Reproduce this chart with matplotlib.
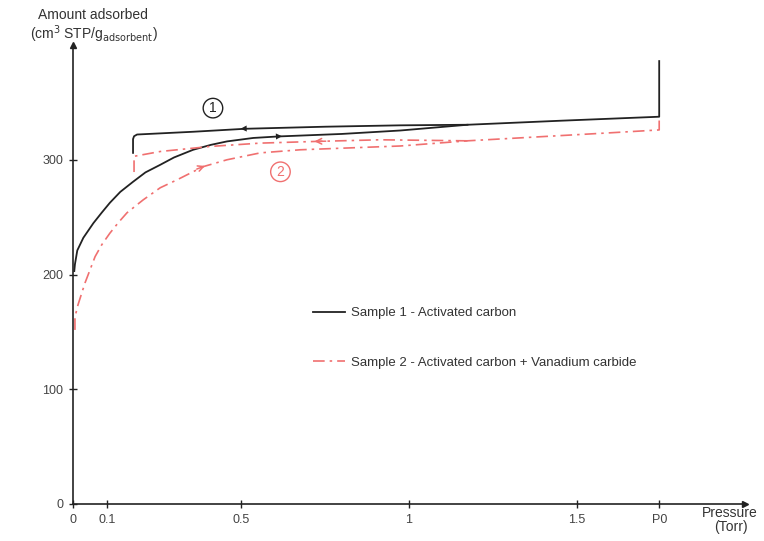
import matplotlib
matplotlib.use('Agg')
import matplotlib.pyplot as plt

plt.rcParams['font.family'] = ['Liberation Sans', 'DejaVu Sans']

P0 = 1.745  # saturation pressure position on the axis

# Sample 1 - activated carbon
s1_ads_p = [0.003, 0.005, 0.012, 0.03, 0.06, 0.085, 0.109, 0.14, 0.178, 0.215, 0.259,
            0.3, 0.357, 0.41, 0.458, 0.536, 0.61, 0.8, 0.974, 1.174, 1.45, P0, P0]
s1_ads_v = [203, 209, 221, 232, 244.8, 254, 262.5, 272, 280.8, 289, 295.6,
            302, 308.7, 313, 316, 319, 320.3, 322.5, 325.5, 330.5, 334, 337.5, 386]
s1_des_p = [1.174, 0.974, 0.75, 0.512, 0.357, 0.19, 0.181, 0.178, 0.178]
s1_des_v = [330.5, 330, 328.8, 327, 324.4, 322, 320.5, 318, 306]

# Sample 2 - activated carbon + vanadium carbide
s2_ads_p = [0.005, 0.005, 0.014, 0.035, 0.065, 0.085, 0.109, 0.135, 0.16, 0.208, 0.259,
            0.309, 0.387, 0.458, 0.557, 0.676, 0.974, 1.174, 1.6, P0, P0]
s2_ads_v = [151.7, 163, 173.5, 192.7, 215.6, 226, 236, 245.5, 253.8, 265, 275.6,
            282.5, 294, 300, 306, 308.7, 312, 316.5, 323.5, 326, 337]
s2_des_p = [1.174, 0.914, 0.726, 0.557, 0.408, 0.259, 0.181, 0.181]
s2_des_v = [316.5, 317.4, 316, 314.5, 311.6, 307.2, 303, 285]

xticks = [0, 0.1, 0.5, 1, 1.5, P0]
xlabels = ['0', '0.1', '0.5', '1', '1.5', 'P0']
yticks = [0, 100, 200, 300]

red = '#f07070'
dashdot = (0, (7, 3, 1.5, 3))

fig = plt.figure(figsize=(7.64, 5.41), dpi=100)
ax = fig.add_axes([0.0959, 0.0684, 0.879, 0.8484])
ax.set_xlim(0, 2.0)
ax.set_ylim(0, 400)

l1, = ax.plot(s1_ads_p, s1_ads_v, color='#222222', lw=1.3,
              label='Sample 1 - Activated carbon')
ax.plot(s1_des_p, s1_des_v, color='#222222', lw=1.3)
l2, = ax.plot(s2_ads_p, s2_ads_v, color=red, lw=1.2, linestyle=dashdot,
              label='Sample 2 - Activated carbon + Vanadium carbide')
ax.plot(s2_des_p, s2_des_v, color=red, lw=1.2, linestyle=dashdot)

# direction arrows on the curves
ax.annotate('', xy=(0.49, 327), xytext=(0.54, 327.4),
            arrowprops=dict(arrowstyle='-|>', color='#222222', lw=0, mutation_scale=11))
ax.annotate('', xy=(0.63, 320.6), xytext=(0.58, 320),
            arrowprops=dict(arrowstyle='-|>', color='#222222', lw=0, mutation_scale=11))
ax.annotate('', xy=(0.40, 295.5), xytext=(0.36, 291),
            arrowprops=dict(arrowstyle='->', color=red, lw=1.1, mutation_scale=10))
ax.annotate('', xy=(0.71, 316), xytext=(0.76, 316.2),
            arrowprops=dict(arrowstyle='->', color=red, lw=1.1, mutation_scale=10))

# circled numbers
ax.text(0.416, 345, '1', ha='center', va='center', fontsize=10, color='#222222',
        bbox=dict(boxstyle='circle,pad=0.2', fc='none', ec='#222222', lw=1))
ax.text(0.617, 289.5, '2', ha='center', va='center', fontsize=10, color=red,
        bbox=dict(boxstyle='circle,pad=0.2', fc='none', ec=red, lw=1))

# axes with arrow heads
for s in ['top', 'right']:
    ax.spines[s].set_visible(False)
for s in ['left', 'bottom']:
    ax.spines[s].set_linewidth(1.2)
    ax.spines[s].set_color('#222222')
ax.plot(1, 0, '>', color='#222222', ms=5, transform=ax.transAxes, clip_on=False)
ax.plot(0, 1, '^', color='#222222', ms=5, transform=ax.transAxes, clip_on=False)

ax.set_xticks(xticks)
ax.set_xticklabels(xlabels)
ax.set_yticks(yticks)
ax.tick_params(direction='inout', length=6, width=1, colors='#222222',
               labelsize=9, labelcolor='#444444', pad=4)

fig.text(93 / 764, 1 - 15 / 541, 'Amount adsorbed', ha='center', va='center',
         fontsize=10, color='#333333')
fig.text(94 / 764, 1 - 34 / 541, r'(cm$^3$ STP/g$_{\mathrm{adsorbent}}$)', ha='center',
         va='center', fontsize=10, color='#333333')
fig.text(730 / 764, 1 - 513 / 541, 'Pressure', ha='center', va='center',
         fontsize=10, color='#333333')
fig.text(731 / 764, 1 - 527 / 541, '(Torr)', ha='center', va='center',
         fontsize=10, color='#333333')

ax.legend(handles=[l1, l2], loc='upper left', frameon=False, fontsize=9.5,
          bbox_to_anchor=(313 / 764, 1 - 307 / 541), bbox_transform=fig.transFigure,
          borderpad=0, borderaxespad=0, labelspacing=2.85, handlelength=2.4,
          handletextpad=0.45, labelcolor='#333333')

fig.savefig('out.png', dpi=100)
